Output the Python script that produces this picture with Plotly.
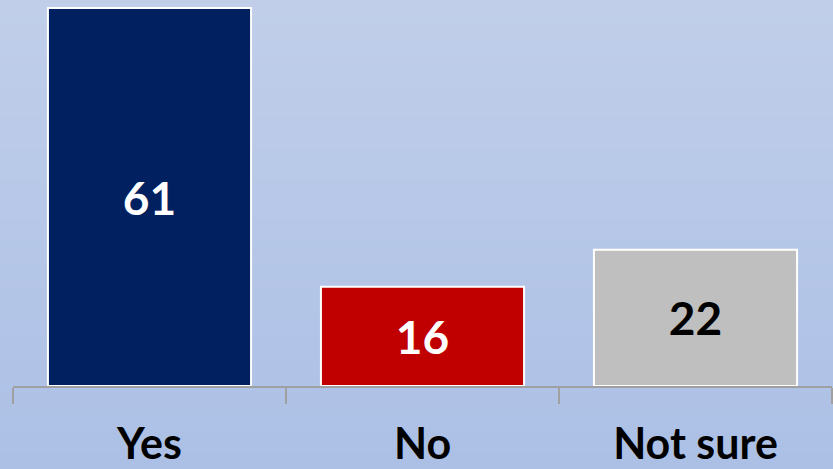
import plotly.graph_objects as go

categories = ["Yes", "No", "Not sure"]
values = [61, 16, 22]
bar_colors = ["#002060", "#C00000", "#BFBFBF"]
label_colors = ["white", "white", "black"]

W, H = 833, 469
M_L, M_R, M_T, M_B = 13, 1, 0, 83

fig = go.Figure()
fig.add_trace(go.Bar(
    x=categories,
    y=values,
    marker=dict(color=bar_colors, line=dict(color="white", width=2)),
    text=[str(v) for v in values],
    textposition="inside",
    insidetextanchor="middle",
    textangle=0,
    textfont=dict(family="Lato", size=46, color=label_colors, weight="bold"),
    hoverinfo="skip",
))

# vertical background gradient drawn as thin stripes over the whole page
top_rgb = (0xC0, 0xCE, 0xE9)
bot_rgb = (0xAC, 0xC0, 0xE6)
n = 60
plot_h = H - M_T - M_B
y0_paper = -M_B / plot_h
y1_paper = 1 + M_T / plot_h
x0_paper = -M_L / (W - M_L - M_R)
x1_paper = 1 + M_R / (W - M_L - M_R)
shapes = []
for i in range(n):
    t = i / (n - 1)
    c = tuple(round(bot_rgb[k] + (top_rgb[k] - bot_rgb[k]) * t) for k in range(3))
    ya = y0_paper + (y1_paper - y0_paper) * i / n
    yb = y0_paper + (y1_paper - y0_paper) * (i + 1) / n
    shapes.append(dict(type="rect", xref="paper", yref="paper",
                       x0=x0_paper, x1=x1_paper, y0=ya, y1=yb + 0.002,
                       fillcolor="rgb(%d,%d,%d)" % c, line=dict(width=0),
                       layer="below"))

fig.update_layout(
    width=W, height=H,
    margin=dict(l=M_L, r=M_R, t=M_T, b=M_B, autoexpand=False),
    paper_bgcolor="#B6C7E7",
    plot_bgcolor="rgba(0,0,0,0)",
    bargap=0.256,
    showlegend=False,
    shapes=shapes,
    uniformtext=dict(minsize=8, mode=False),
)
fig.update_xaxes(
    automargin=False,
    showline=True, linecolor="#A0A0A0", linewidth=2,
    ticks="outside", tickson="boundaries", ticklen=16, tickcolor="#A0A0A0", tickwidth=2,
    tickfont=dict(family="Lato", size=43, color="black", weight="bold"),
    ticklabelstandoff=19,
    showgrid=False, zeroline=False,
)
fig.update_yaxes(visible=False, automargin=False, range=[0, 62.3], showgrid=False, zeroline=False)

fig.write_html("out.html")
